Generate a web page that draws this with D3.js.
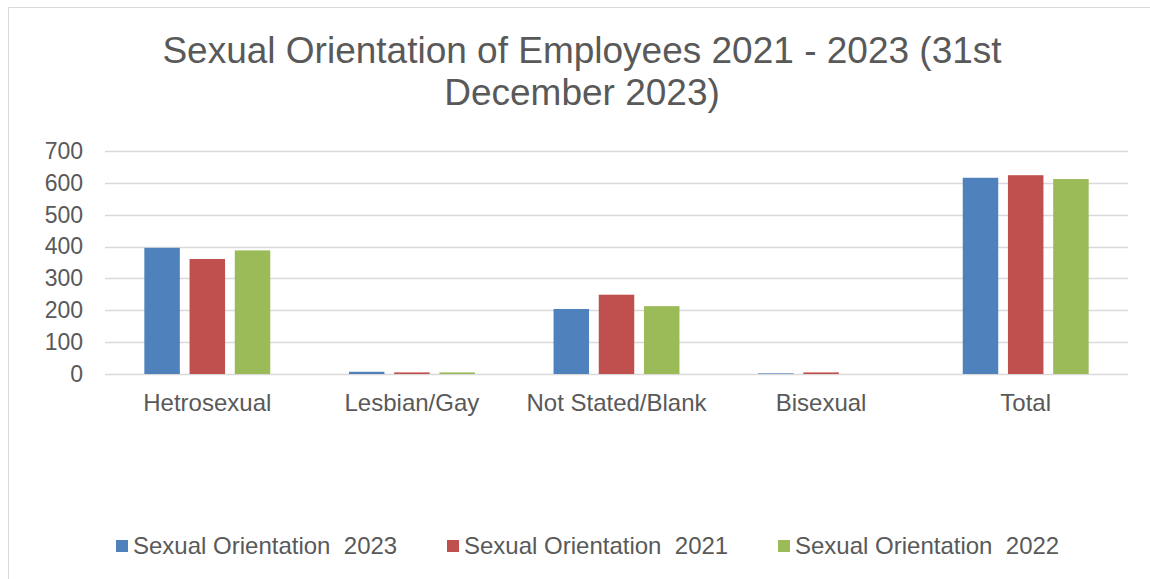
<!DOCTYPE html>
<html>
<head>
<meta charset="utf-8">
<script src="https://cdn.jsdelivr.net/npm/d3@7"></script>
<style>
  body { margin: 0; background: #fff; }
  text { font-family: "Liberation Sans", Arial, sans-serif; fill: #595959; }
</style>
</head>
<body>
<div id="chart"></div>
<script>
const categories = ["Hetrosexual", "Lesbian/Gay", "Not Stated/Blank", "Bisexual", "Total"];
const seriesNames = ["Sexual Orientation  2023", "Sexual Orientation  2021", "Sexual Orientation  2022"];
const values2023 = [396, 7, 204, 2, 616];
const values2021 = [361, 5, 249, 5, 624];
const values2022 = [388, 5, 213, 0, 612];
const yTicks = [0, 100, 200, 300, 400, 500, 600, 700];
const colors = ["#4F81BD", "#C0504D", "#9BBB59"];

const width = 1150, height = 579;
const margin = { top: 151, right: 22, bottom: 205, left: 105 };

const svg = d3.select("#chart").append("svg")
    .attr("width", width)
    .attr("height", height);

// chart frame
svg.append("path")
    .attr("d", `M8.5,${height + 5}V7.5H${width + 5}`)
    .attr("fill", "none")
    .attr("stroke", "#D9D9D9");

// title
const title = svg.append("text")
    .attr("text-anchor", "middle")
    .style("font-size", "37px");
title.append("tspan").attr("x", 582).attr("y", 63).text("Sexual Orientation of Employees 2021 - 2023 (31st");
title.append("tspan").attr("x", 582).attr("y", 105).text("December 2023)");

const series = [values2023, values2021, values2022];

const x = d3.scaleBand()
    .domain(categories)
    .range([margin.left, width - margin.right]);

const x1 = d3.scaleBand()
    .domain(d3.range(series.length))
    .range([0, x.bandwidth()])
    .paddingInner(0.215)
    .paddingOuter(0.87);

const y = d3.scaleLinear()
    .domain([0, 700])
    .range([height - margin.bottom, margin.top]);

// gridlines
svg.append("g")
    .selectAll("line")
    .data(yTicks)
    .enter().append("line")
    .attr("x1", margin.left)
    .attr("x2", width - margin.right)
    .attr("y1", d => Math.round(y(d)) + 0.5)
    .attr("y2", d => Math.round(y(d)) + 0.5)
    .attr("stroke", "#D9D9D9")
    .attr("stroke-width", 1.5);

// y axis labels
const yAxis = svg.append("g")
    .attr("transform", `translate(${margin.left - 22},0)`)
    .call(d3.axisLeft(y).tickValues(yTicks).tickSize(0).tickPadding(0));
yAxis.select(".domain").remove();
yAxis.selectAll("text")
    .style("font-size", "23px")
    .attr("fill", "#595959")
    .style("font-family", "Liberation Sans, Arial, sans-serif");

// bars
series.forEach((vals, i) => {
    svg.append("g")
        .selectAll("rect")
        .data(vals)
        .enter().append("rect")
        .attr("x", (d, j) => x(categories[j]) + x1(i))
        .attr("y", d => y(d))
        .attr("width", x1.bandwidth())
        .attr("height", d => y(0) - y(d))
        .attr("fill", colors[i]);
});

// x axis labels
const xAxis = svg.append("g")
    .attr("transform", `translate(0,${y(0)})`)
    .call(d3.axisBottom(x).tickSize(0).tickPadding(20));
xAxis.select(".domain").remove();
xAxis.selectAll("text")
    .style("font-size", "24px")
    .attr("fill", "#595959")
    .style("font-family", "Liberation Sans, Arial, sans-serif");

// legend
const legendX = [116, 447, 778];
const legend = svg.append("g")
    .selectAll("g")
    .data(seriesNames)
    .enter().append("g")
    .attr("transform", (d, i) => `translate(${legendX[i]},546)`);
legend.append("rect")
    .attr("x", 0)
    .attr("y", -6)
    .attr("width", 12)
    .attr("height", 12)
    .attr("fill", (d, i) => colors[i]);
legend.append("text")
    .attr("x", 17)
    .attr("y", 8)
    .style("font-size", "24px")
    .style("white-space", "pre")
    .attr("xml:space", "preserve")
    .text(d => d);
</script>
</body>
</html>
